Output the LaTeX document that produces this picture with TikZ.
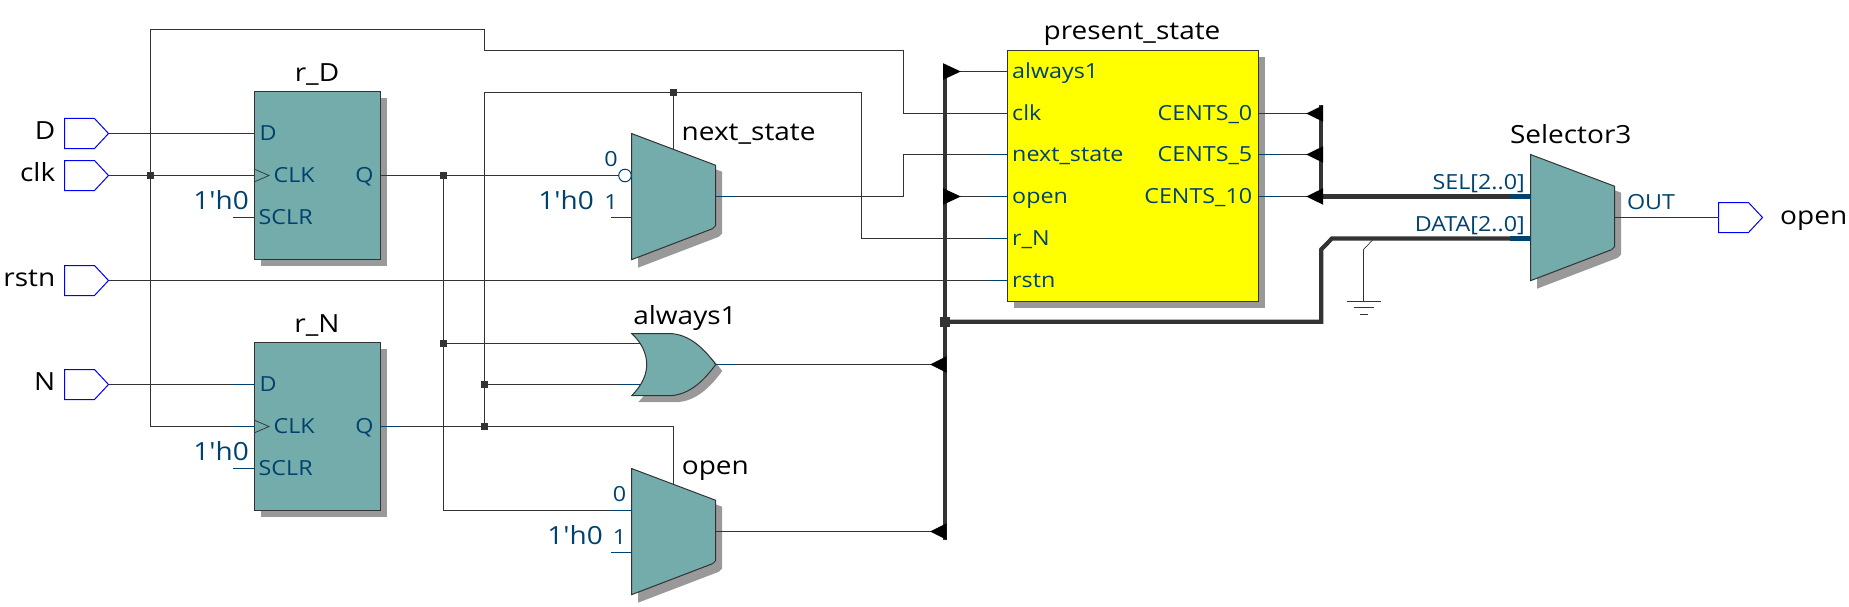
\documentclass[tikz,border=0pt]{standalone}
\usepackage{fontspec}
\setmainfont[FakeStretch=1.12, Ligatures=TeXOff]{Open Sans}
\usetikzlibrary{calc}
\definecolor{tealFill}{RGB}{116,171,171}
\definecolor{shadowGray}{RGB}{153,153,153}
\definecolor{wireGray}{RGB}{51,51,51}
\definecolor{pinBlue}{RGB}{0,66,110}
\definecolor{stateYellow}{RGB}{255,255,0}
\tikzset{
	wire/.style={draw=wireGray, line width=1pt},
	buswire/.style={draw=wireGray, line width=4.2pt},
	stub/.style={draw=pinBlue, line width=1pt},
	junct/.style={fill=wireGray, inner sep=0pt, minimum size=6.5pt},
	block/.style={draw=wireGray, line width=1pt, inner sep=0pt, outer sep=0pt, anchor=north west},
	lbl/.style={font=\fontsize{25}{28}\selectfont, text=black, inner sep=0pt, anchor=base},
	pinlbl/.style={font=\fontsize{20.8}{25}\selectfont, text=pinBlue, inner sep=0pt, anchor=base west},
	constlbl/.style={font=\fontsize{25}{28}\selectfont, text=pinBlue, inner sep=0pt, anchor=base east},
}
\providecommand{\IoPin}[3]{%
	\draw[blue, line width=1pt] (#2,#3-15) -- ++(30,0) -- ++(14,15) -- ++(-14,15) -- ++(-30,0) -- cycle;
	\coordinate (#1-in) at (#2,#3);
	\coordinate (#1) at (#2+44,#3);
}
\providecommand{\Dff}[4]{%
	\fill[shadowGray] (#2+6.5,#3+6.5) rectangle ++(126,168);
	\node[block, fill=tealFill, minimum width=126pt, minimum height=168pt] (#1) at (#2,#3) {};
	\coordinate (#1-D) at ($ (#1.north west)+(0,42) $);
	\coordinate (#1-CLK) at ($ (#1.north west)+(0,84) $);
	\coordinate (#1-SCLR) at ($ (#1.north west)+(0,126) $);
	\coordinate (#1-Q) at ($ (#1.north east)+(0,84) $);
	\draw[wireGray, line width=0.7pt] ($ (#1-CLK)+(0,-6.5) $) -- ++(15,6.5) -- ++(-15,6.5);
	\node[lbl] (#1-name) at ($ (#1.north)+(0,-10) $) {#4};
	\node[pinlbl] (#1-dlbl) at ($ (#1-D)+(5.5,7.2) $) {D};
	\node[pinlbl] (#1-clbl) at ($ (#1-CLK)+(19.5,7.2) $) {CLK};
	\node[pinlbl] (#1-slbl) at ($ (#1-SCLR)+(4.5,7.2) $) {SCLR};
	\node[pinlbl, anchor=base east] (#1-qlbl) at ($ (#1-Q)+(-6.3,7.2) $) {Q};
	\node[constlbl] (#1-const) at ($ (#1-SCLR)+(-5,-8) $) {1'h0};
}
\providecommand{\Mux}[3]{%
	\fill[shadowGray] (#2+6.5,#3+6.5) -- ++(84,31.7) -- ++(0,62) -- ++(-3,3) -- ++(-81,31) -- cycle;
	\filldraw[wireGray, fill=tealFill, line width=1pt] (#2,#3) -- ++(84,31.7) -- ++(0,60.5) -- ++(-3,3) -- ++(-81,31) -- cycle;
	\coordinate (#1-a) at (#2,#3+42);
	\coordinate (#1-b) at (#2,#3+84);
	\coordinate (#1-out) at (#2+84,#3+63);
	\coordinate (#1-sel) at (#2+42,#3+16);
}

\begin{document}
\begin{tikzpicture}[x=1pt, y=-1pt]
	\useasboundingbox (0,0) rectangle (1849,607);

	\IoPin{D}{64.5}{133.5}
	\IoPin{clk}{64.5}{175.5}
	\IoPin{rstn}{64.5}{280.5}
	\IoPin{N}{64.5}{384.5}
	\IoPin{openpin}{1718.5}{217.5}
	\node[lbl, anchor=base east] (Dname) at (55.4,139.3) {D};
	\node[lbl, anchor=base east] (clkname) at (55.4,181.7) {clk};
	\node[lbl, anchor=base east] (rstnname) at (55.4,286.7) {rstn};
	\node[lbl, anchor=base east] (Nname) at (55.4,390) {N};
	\node[lbl, anchor=base west] (openname) at (1780,224) {open};

	\Dff{rD}{254}{91.5}{r\_D}
	\Dff{rN}{254}{342.5}{r\_N}

	\Mux{nextst}{631.5}{133.5}
	\Mux{openmux}{631.5}{468.5}
	\Mux{selmux}{1530.5}{154.5}
	\node[lbl, anchor=base west] (nextname) at (681.5,140) {next\_state};
	\node[lbl, anchor=base west] (openmuxname) at (681.7,474.5) {open};
	\node[lbl] (selname) at (1570.7,143.3) {Selector3};
	\node[pinlbl, anchor=base] (nexta) at (611,166.7) {0};
	\node[pinlbl, anchor=base] (nextb) at (611,209.3) {1};
	\node[constlbl] (nextconst) at (594,209.3) {1'h0};
	\node[pinlbl, anchor=base] (opena) at (619.5,501.7) {0};
	\node[pinlbl, anchor=base] (openb) at (619.5,544) {1};
	\node[constlbl] (openconst) at (603,544.3) {1'h0};
	\node[pinlbl, anchor=base east] (sellbl) at (1525,189) {SEL[2..0]};
	\node[pinlbl, anchor=base east] (datalbl) at (1525,231) {DATA[2..0]};
	\node[pinlbl] (outlbl) at (1626.8,209.3) {OUT};

	% or gate
	\fill[shadowGray, shift={(6.5,6.5)}] (631.7,333.5) -- (668.3,333.5) .. controls (690,333.5) and (705,350) .. (715.7,364.5) .. controls (705,379) and (690,395.7) .. (668.3,395.7) -- (631.7,395.7) .. controls (642,385) and (646.7,375) .. (646.7,364.5) .. controls (646.7,354) and (642,343) .. (631.7,333.5) -- cycle;
	\filldraw[wireGray, fill=tealFill, line width=1pt] (631.7,333.5) -- (668.3,333.5) .. controls (690,333.5) and (705,350) .. (715.7,364.5) .. controls (705,379) and (690,395.7) .. (668.3,395.7) -- (631.7,395.7) .. controls (642,385) and (646.7,375) .. (646.7,364.5) .. controls (646.7,354) and (642,343) .. (631.7,333.5) -- cycle;
	\coordinate (orgate-a) at (640,343.5);
	\coordinate (orgate-b) at (640,384.5);
	\coordinate (orgate-out) at (715.7,364.5);
	\node[lbl] (orname) at (685,324) {always1};

	% state register
	\fill[shadowGray] (1014,57.5) rectangle ++(251,250);
	\node[block, fill=stateYellow, minimum width=251pt, minimum height=250pt] (pstate) at (1007.5,51) {};
	\node[lbl] (pstatename) at (1132,39.7) {present\_state};
	\foreach \pname/\py/\ptxt in {always1/71.5/always1, clk/113.5/clk, next/154.5/next\_state, open/196.5/open, rN/238.5/r\_N, rstn/280.5/rstn} {
		\coordinate (pstate-\pname) at ($ (pstate.north west |- 0,\py) $);
		\node[pinlbl] (pstate-lbl-\pname) at ($ (pstate-\pname)+(4.5,7.2) $) {\ptxt};
	}
	\foreach \pname/\py/\ptxt in {c0/113.5/CENTS\_0, c5/154.5/CENTS\_5, c10/196.5/CENTS\_10} {
		\coordinate (pstate-\pname) at ($ (pstate.north east |- 0,\py) $);
		\node[pinlbl, anchor=base east] (pstate-lbl-\pname) at ($ (pstate-\pname)+(-6,7.2) $) {\ptxt};
	}

	\node[junct] (jclk) at (150.5,175.5) {};
	\node[junct] (jqd) at (443.5,175.5) {};
	\node[junct] (jqdor) at (443.5,343.5) {};
	\node[junct] (jqn) at (484.5,426.5) {};
	\node[junct] (jqnor) at (484.5,384.5) {};
	\node[junct] (jqnsel) at (673.5,92.5) {};
	\node[junct, minimum size=10pt] (jbus) at (945,321.7) {};

	\coordinate (clkA) at (484.5,29.5);
	\coordinate (clkB) at (903.5,50.5);
	\coordinate (qnA) at (861.5,92.5);
	\coordinate (openT) at (673.5,426.5);
	\coordinate (busTop) at (945,70);
	\coordinate (busBot) at (945,540);
	\coordinate (selTop) at (1321.2,105);
	\coordinate (selBot) at (1321.2,196.5);
	\coordinate (dataA) at (1321.2,249.5);
	\coordinate (dataB) at (1331.9,238.5);
	\coordinate (gndA) at (1374,238.5);
	\coordinate (gndB) at (1363.5,249.5);
	\coordinate (gndC) at (1363.5,301);

	% single nets
	\draw[wire] (D) -- (rD-D);
	\draw[wire] (clk) -- (rD-CLK);
	\draw[wire] (N) -- (rN-D);
	\draw[wire] (rstn) -- (pstate-rstn);
	\draw[wire] (rN-CLK) -| (jclk.center) |- (clkA) |- (clkB) |- (pstate-clk);
	\draw[wire] (rD-Q) -- (nextst-a);
	\draw[wire] (jqd.center) |- (openmux-a);
	\draw[wire] (jqdor.center) -- (orgate-a);
	\draw[wire] (rN-Q) -- (jqn.center) -| (openT) -- (openmux-sel);
	\draw[wire] (jqnor.center) -- (orgate-b);
	\draw[wire] (jqn.center) |- (qnA) |- (pstate-rN);
	\draw[wire] (jqnsel.center) -- (nextst-sel);
	\draw[wire] (nextst-out) -| (clkB |- pstate-next) -- (pstate-next);
	\draw[wire] (orgate-out) -- (busTop |- orgate-out);
	\draw[wire] (openmux-out) -- (busTop |- openmux-out);
	\draw[wire] (busTop |- pstate-always1) -- (pstate-always1);
	\draw[wire] (busTop |- pstate-open) -- (pstate-open);
	\draw[wire] (pstate-c0) -- (selTop |- pstate-c0);
	\draw[wire] (pstate-c5) -- (selTop |- pstate-c5);
	\draw[wire] (pstate-c10) -- (selBot);
	\draw[wire] (selmux-out) -- (openpin-in);
	\draw[wireGray, line width=0.7pt] (gndA) -- (gndB) -- (gndC);
	\draw[wireGray, line width=0.7pt] (gndC) +(-17,0) -- +(17,0);
	\draw[wireGray, line width=0.7pt] (gndC) +(-10,6.7) -- +(10,6.7);
	\draw[wireGray, line width=0.7pt] (gndC) +(-4,13.3) -- +(4,13.3);

	% busses
	\draw[buswire] (busTop) -- (busBot);
	\draw[buswire] (selTop) -- (selBot);
	\draw[buswire] (selBot) -- (selmux-a);
	\draw[buswire] (jbus.center) -| (dataA) -- (dataB) -- (selmux-b);
	\draw[draw=pinBlue, line width=4.2pt] (selmux-a) -- ++(-21,0);
	\draw[draw=pinBlue, line width=4.2pt] (selmux-b) -- ++(-21,0);

	% bus rippers
	\foreach \py in {71.5,196.5}
		\fill[black] (943,\py-8.3) -- (960.8,\py) -- (943,\py+8.3) -- cycle;
	\foreach \py in {364.5,531.5}
		\fill[black] (946.7,\py-8.3) -- (930,\py) -- (946.7,\py+8.3) -- cycle;
	\foreach \py in {113.5,154.5,196.5}
		\fill[black] (1323.2,\py-8.3) -- (1306.2,\py) -- (1323.2,\py+8.3) -- cycle;

	% pin stubs
	\foreach \pin in {rD-D,rD-CLK,rD-SCLR,rN-D,rN-CLK,rN-SCLR,nextst-b,openmux-a,openmux-b,pstate-always1,pstate-clk,pstate-next,pstate-open,pstate-rN,pstate-rstn}
		\draw[stub] (\pin) -- ++(-21,0);
	\foreach \pin in {rD-Q,rN-Q,nextst-out,openmux-out,selmux-out,orgate-out}
		\draw[stub] (\pin) -- ++(21,0);
	\foreach \pin in {pstate-c0,pstate-c5,pstate-c10}
		\draw[stub] (\pin) -- ++(21,0);
	\draw[stub] (orgate-a) -- ++(-21,0);
	\draw[stub] (orgate-b) -- ++(-21,0);
	\filldraw[pinBlue, fill=white, line width=1pt] (625,175.5) circle (6.3);
\end{tikzpicture}
\end{document}
